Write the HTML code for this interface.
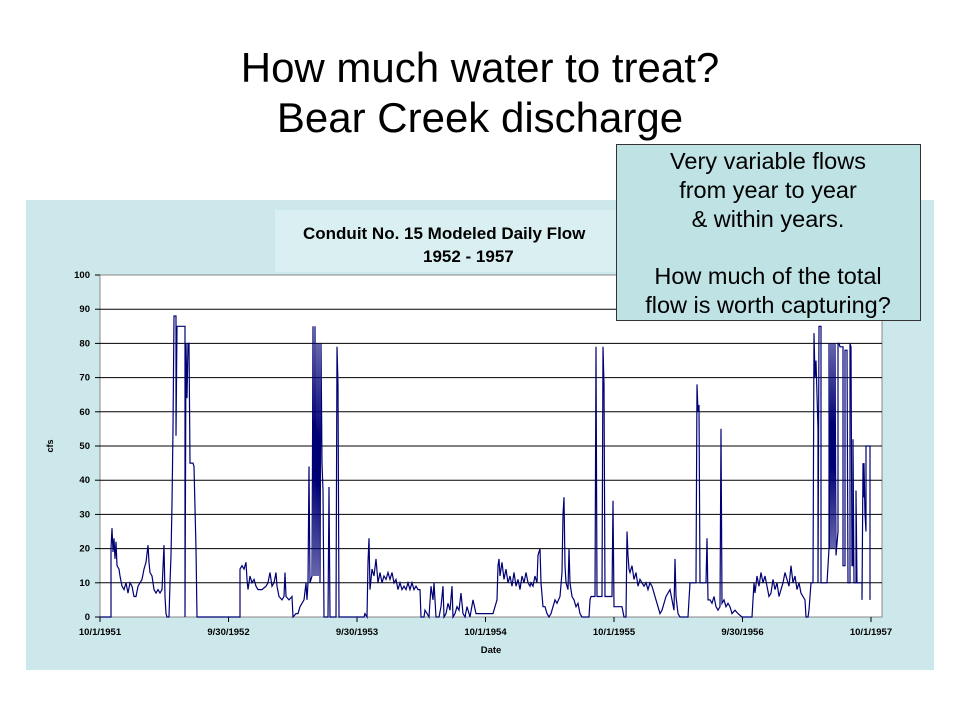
<!DOCTYPE html>
<html><head><meta charset="utf-8"><style>
body{margin:0;width:960px;height:720px;background:#fff;overflow:hidden;font-family:"Liberation Sans",sans-serif;position:relative}
.t{position:absolute;left:0;width:960px;text-align:center;font-size:42px;color:#000;line-height:48px}
</style></head><body>
<div class="t" style="top:44px">How much water to treat?</div>
<div class="t" style="top:94px">Bear Creek discharge</div>
<svg width="960" height="720" style="position:absolute;left:0;top:0" xmlns="http://www.w3.org/2000/svg">
<rect x="26" y="200" width="908" height="470" fill="#cde8eb"/>
<rect x="275" y="210" width="400" height="62" fill="#d9eff1"/>
<text x="303" y="239" font-family="Liberation Sans" font-weight="bold" font-size="17">Conduit No. 15 Modeled Daily Flow</text>
<text x="423" y="262" font-family="Liberation Sans" font-weight="bold" font-size="17">1952 - 1957</text>
<rect x="100" y="275" width="782" height="342" fill="#fff" stroke="#888" stroke-width="1"/>
<g id="grid" stroke="#000" stroke-width="1"></g>
<g font-family="Liberation Sans" font-weight="bold" font-size="9.5" id="lab"></g>
<text x="53" y="446" font-family="Liberation Sans" font-weight="bold" font-size="9" transform="rotate(-90 53 446)" text-anchor="middle">cfs</text>
<text x="491" y="653" font-family="Liberation Sans" font-weight="bold" font-size="9.5" text-anchor="middle">Date</text>
<polyline id="d" fill="none" stroke="#000075" stroke-width="1.2"/>
<rect x="616.5" y="144.5" width="304" height="176" fill="#bfe2e4" stroke="#333" stroke-width="1"/>
<g font-family="Liberation Sans" font-size="23.5" text-anchor="middle" fill="#000">
<text x="768" y="169">Very variable flows</text>
<text x="768" y="198">from year to year</text>
<text x="768" y="227">&amp; within years.</text>
<text x="768" y="284">How much of the total</text>
<text x="768" y="313">flow is worth capturing?</text>
</g>
</svg>
<script>
var ns="http://www.w3.org/2000/svg";
var g=document.getElementById('grid'),lab=document.getElementById('lab');
function Y(v){return 617-3.42*v;}
for(var v=0;v<=100;v+=10){var y=Y(v);
 if(v>0&&v<100){var l=document.createElementNS(ns,'line');l.setAttribute('x1',100);l.setAttribute('x2',882);l.setAttribute('y1',y);l.setAttribute('y2',y);g.appendChild(l);}
 var t=document.createElementNS(ns,'line');t.setAttribute('x1',95);t.setAttribute('x2',100);t.setAttribute('y1',y);t.setAttribute('y2',y);g.appendChild(t);
 var tx=document.createElementNS(ns,'text');tx.setAttribute('x',90);tx.setAttribute('y',y+3);tx.setAttribute('text-anchor','end');tx.textContent=v;lab.appendChild(tx);}
var xl=["10/1/1951","9/30/1952","9/30/1953","10/1/1954","10/1/1955","9/30/1956","10/1/1957"];
for(var i=0;i<7;i++){var x=100+i*128.5;var t=document.createElementNS(ns,'line');t.setAttribute('x1',x);t.setAttribute('x2',x);t.setAttribute('y1',617);t.setAttribute('y2',622);g.appendChild(t);
 var tx=document.createElementNS(ns,'text');tx.setAttribute('x',x);tx.setAttribute('y',635);tx.setAttribute('text-anchor','middle');tx.textContent=xl[i];lab.appendChild(tx);}
var p=[100,0,111,0,111,20,112,26,113,19,114,23,115,17,116,22,117,15,119,14,120,12,122,9,124,8,126,10,128,7,130,10,132,9,134,6,136,6,138,9,140,10,142,11,144,14,146,16,148,21,149,16,150,13,152,12,154,8,156,7,158,8,160,7,162,8,164,21,165,6,166,1,167,0,169,0,170,10,171,18,172,33,173,55,174,88,176,88,176,53,177,85,185,85,185,0,186,80,187,64,188,80,189,80,190,45,193,45,194,44,195,32,196,20,197,0,240,0,240,14,242,15,244,14,246,16,247,11,248,8,250,12,252,10,254,11,256,9,258,8,262,8,266,9,268,10,270,13,272,9,274,10,276,13,277,9,279,6,282,5,284,6,285,13,286,6,289,5,292,6,293,0,296,1,298,1,300,3,302,4,304,5,306,10,307,5,308,10,309,44,310,10,312,12,313,85,314,12,315,85,316,12,317,80,318,12,319,80,320,10,321,80,322,45,323,37,324,0,328,0,329,38,330,0,336,0,337,79,338,68,339,0,364,0,365,1,367,0,368,16,369,23,370,8,372,14,374,12,376,17,378,10,380,13,382,10,384,12,386,11,388,13,390,11,392,13,394,10,396,11,398,8,400,10,402,8,404,9,406,8,408,10,410,8,412,10,414,8,416,9,418,8,420,8,421,0,424,0,425,2,427,1,429,0,431,9,433,5,434,10,436,0,439,0,441,3,443,9,444,0,446,1,448,4,450,2,452,9,453,0,455,1,457,3,459,2,461,7,463,1,465,0,467,3,470,0,473,5,476,1,480,1,482,1,493,1,495,3,497,5,498,15,499,17,500,12,502,16,504,11,506,14,508,10,510,12,512,9,514,13,516,9,518,11,520,8,522,12,524,10,526,13,528,10,530,9,531,10,533,9,535,12,537,10,538,18,540,20,541,10,543,3,545,3,547,1,549,0,551,1,553,3,555,5,557,4,560,6,562,13,563,30,564,35,565,15,566,10,568,8,569,20,570,10,572,6,574,5,576,3,578,4,580,1,582,0,586,0,589,0,590,5,591,6,595,6,596,79,597,6,602,6,603,79,604,68,605,6,612,6,613,34,614,3,622,3,624,0,626,0,627,25,628,18,629,14,630,13,632,15,634,11,636,13,638,9,640,11,642,10,644,9,646,10,648,8,650,10,652,9,654,7,656,5,658,3,660,1,662,2,664,4,666,6,668,7,670,8,672,5,674,2,675,17,676,6,678,1,680,0,688,0,690,10,696,10,697,68,698,60,699,62,700,10,706,10,707,23,708,5,710,5,712,4,714,6,716,3,718,2,720,3,721,55,722,4,724,5,726,3,728,4,730,3,732,1,735,2,738,1,742,0,752,0,754,10,755,7,757,12,759,9,761,13,763,10,765,12,767,9,769,6,771,7,773,11,775,8,777,10,779,6,781,8,783,10,785,13,787,11,789,9,791,15,793,10,795,12,797,8,799,10,801,7,803,6,805,5,806,0,808,0,809,2,811,10,813,10,814,83,815,70,816,75,817,65,818,55,818,10,819,85,821,85,821,10,827,10,829,20,829,80,830,20,831,80,832,20,833,80,834,20,835,80,836,18,838,25,838,80,839,80,840,79,843,79,843,15,845,15,845,78,847,78,848,10,850,10,850,80,851,79,852,15,853,15,853,52,854,10,856,10,856,37,857,10,862,10,862,5,863,45,864,35,864,45,865,30,866,25,866,50,870,50,870,5];
var out=[];
for(var i=0;i<p.length;i+=2){out.push(p[i]+","+Y(p[i+1]).toFixed(1));}
document.getElementById('d').setAttribute('points',out.join(' '));
</script>
</body></html>
